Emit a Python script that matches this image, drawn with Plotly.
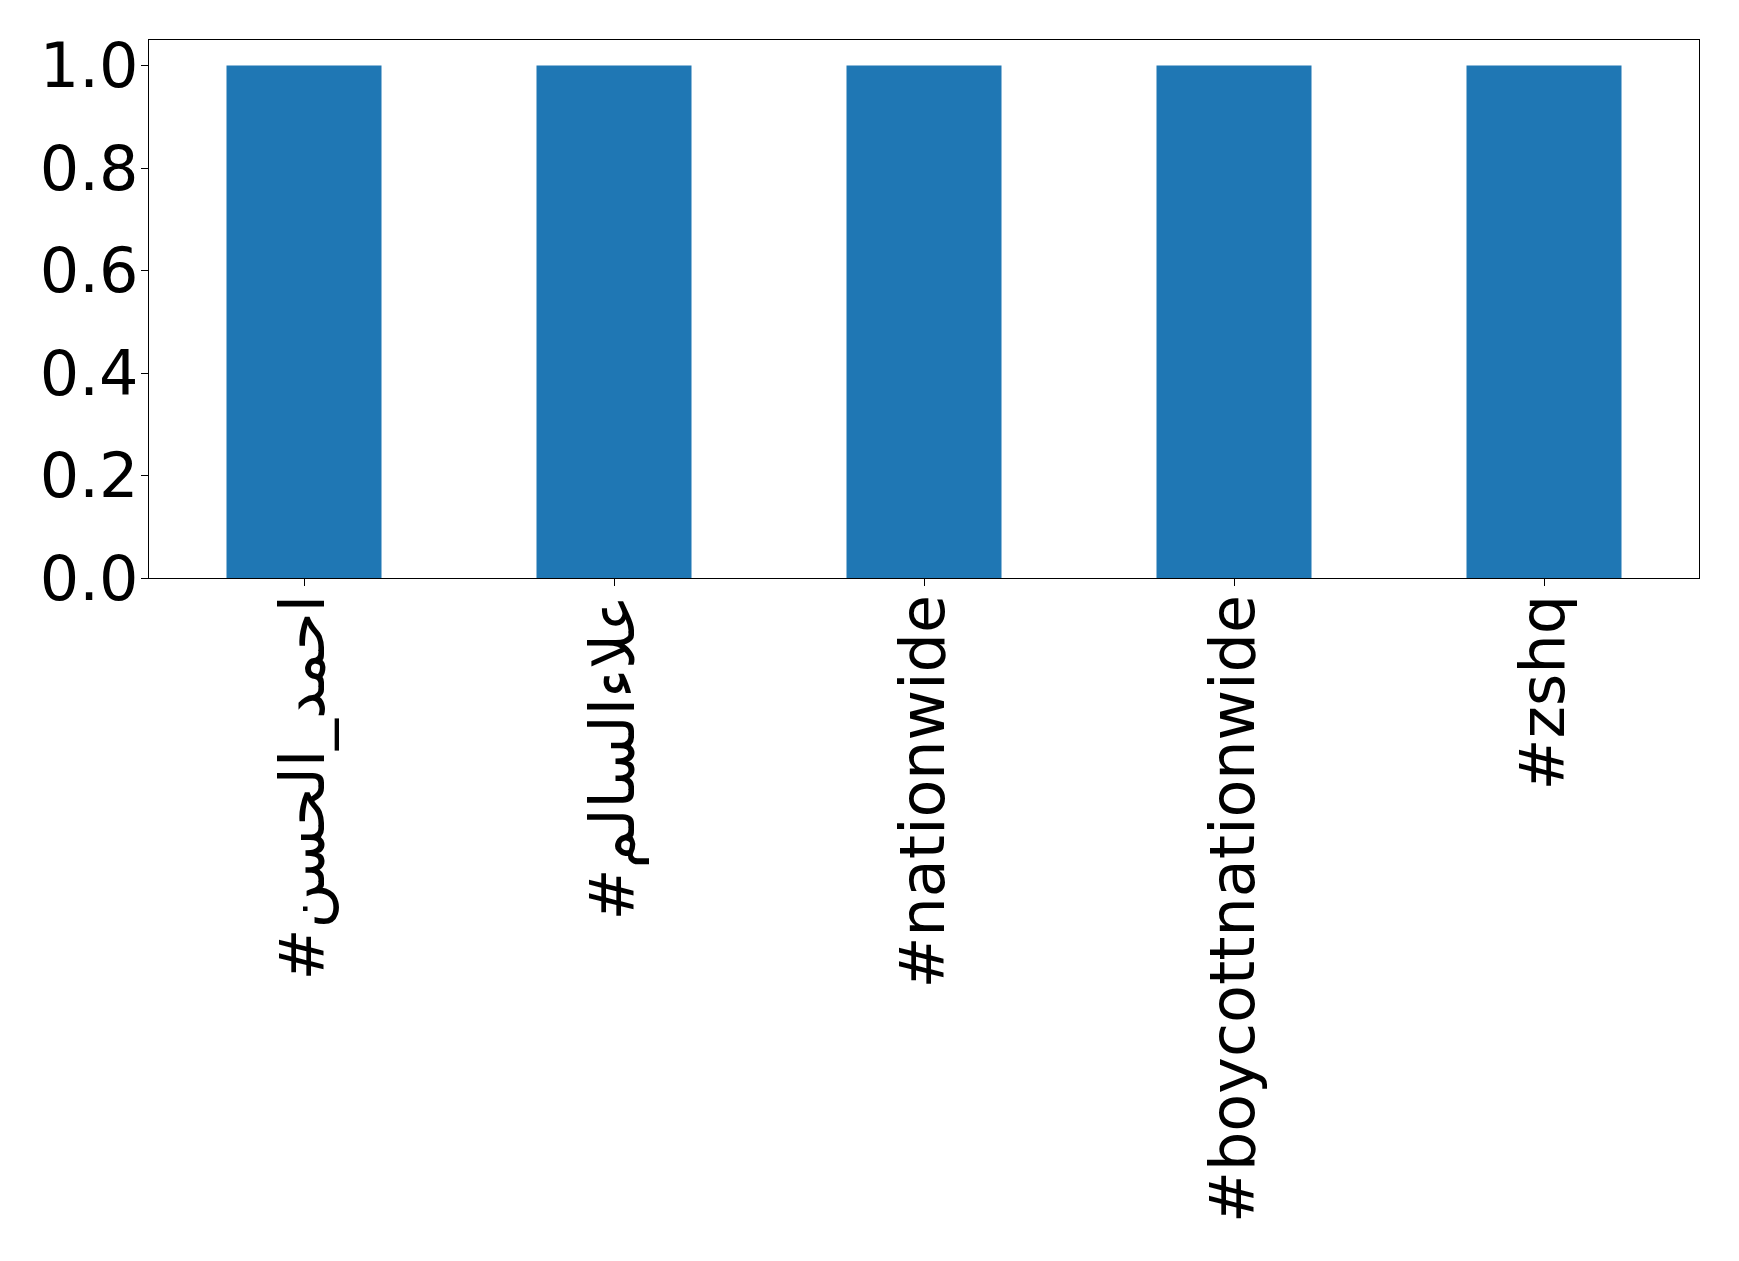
import plotly.graph_objects as go

categories = ["#احمد_الحسن", "#علاءالسالم", "#nationwide", "#boycottnationwide", "#zshq"]
values = [1, 1, 1, 1, 1]
y_ticks = [0.0, 0.2, 0.4, 0.6, 0.8, 1.0]

fig = go.Figure(
    go.Bar(x=categories, y=values, width=0.5, marker=dict(color="#1f77b4", line=dict(width=0)))
)

fig.update_layout(
    autosize=False,
    width=1731,
    height=1253,
    margin=dict(l=141, r=40, t=32, b=683, pad=0),
    plot_bgcolor="white",
    paper_bgcolor="white",
    font=dict(family="DejaVu Sans", size=62, color="black"),
    showlegend=False,
    bargap=0.5,
)
fig.update_xaxes(
    range=[-0.5, 4.5],
    tickangle=-90,
    showline=True,
    linecolor="black",
    linewidth=1.3,
    mirror=True,
    ticks="outside",
    ticklen=7,
    tickcolor="black",
    showgrid=False,
    ticklabelstandoff=-16,
    tickfont=dict(size=62, family="DejaVu Sans"),
)
fig.update_yaxes(
    range=[0, 1.05],
    tickvals=y_ticks,
    tickformat=".1f",
    showline=True,
    linecolor="black",
    linewidth=1.3,
    mirror=True,
    ticks="outside",
    ticklen=7,
    tickcolor="black",
    showgrid=False,
    zeroline=False,
    ticklabelstandoff=-10,
    tickfont=dict(size=62, family="DejaVu Sans"),
)

fig.write_html("out.html")
